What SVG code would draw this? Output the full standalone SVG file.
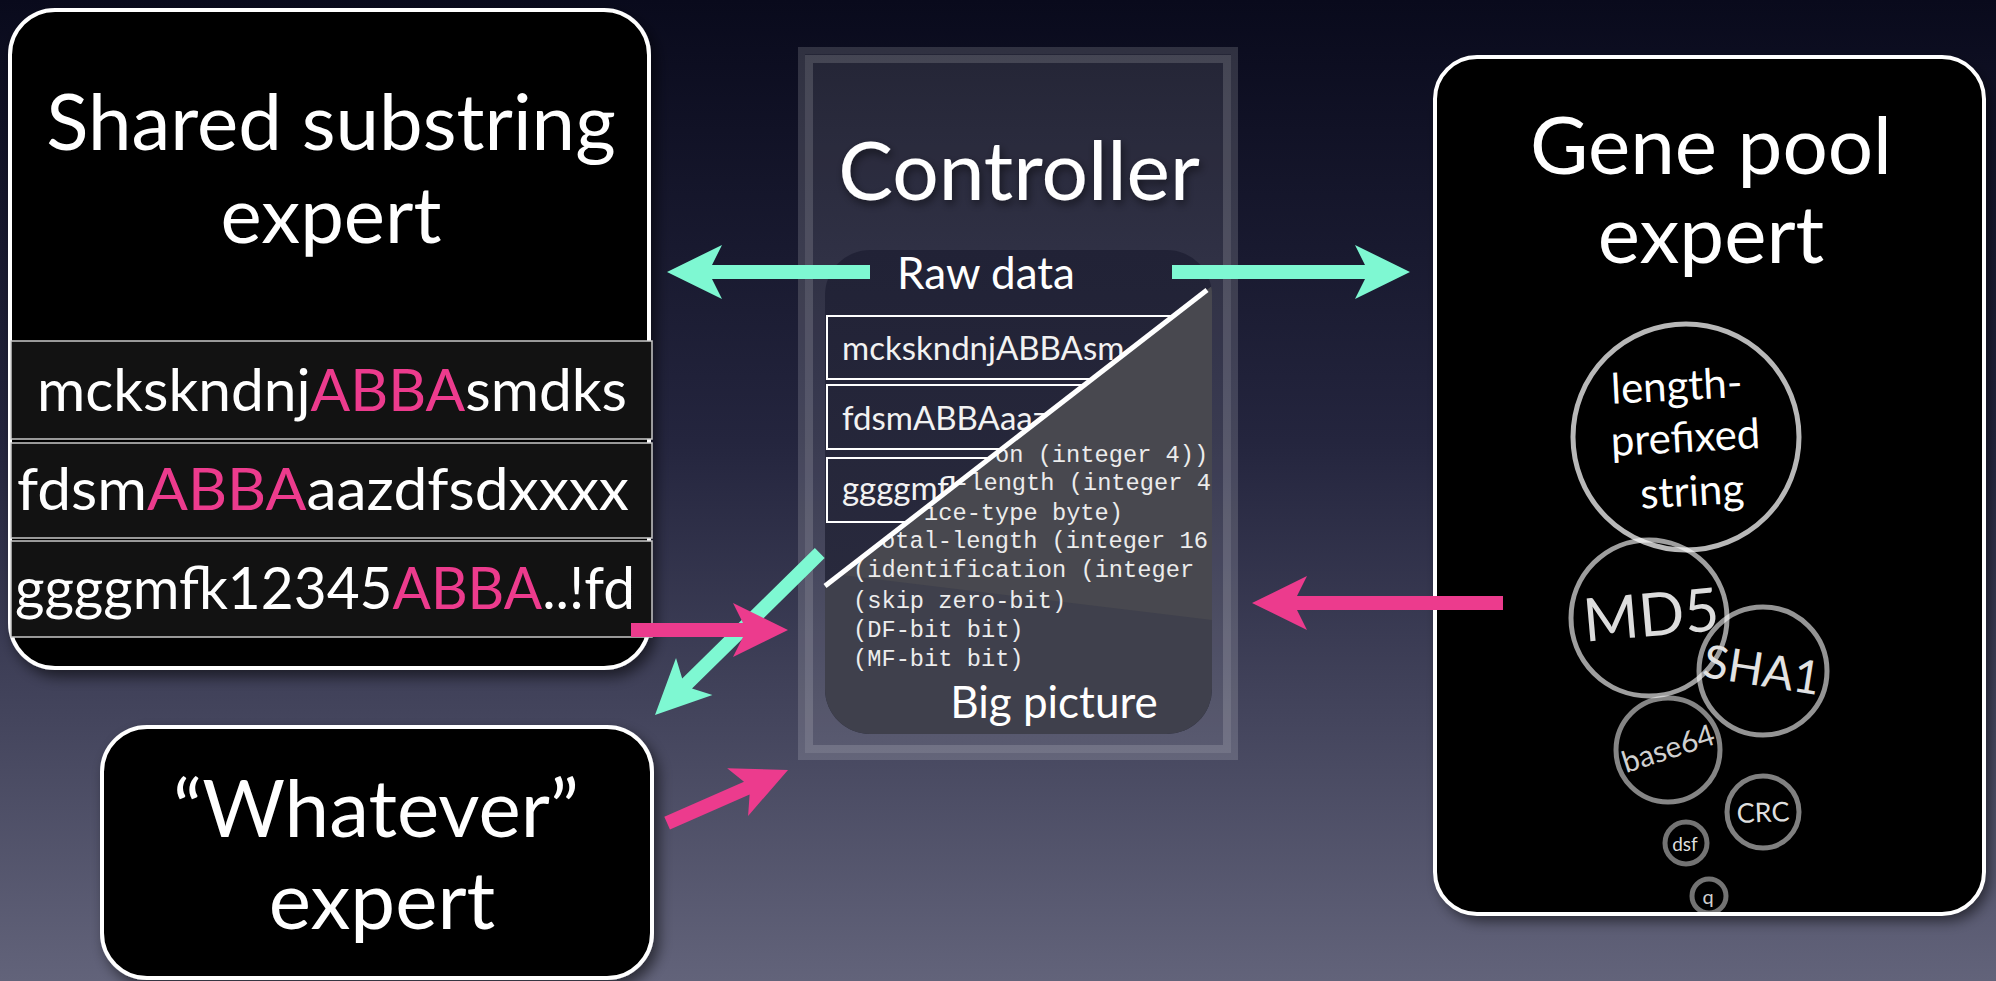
<svg xmlns="http://www.w3.org/2000/svg" width="1996" height="981" viewBox="0 0 1996 981">
  <defs>
    <linearGradient id="bg" x1="0" y1="0" x2="0" y2="1">
      <stop offset="0" stop-color="#090a1c"/>
      <stop offset="0.45" stop-color="#24253e"/>
      <stop offset="1" stop-color="#62637a"/>
    </linearGradient>
    <linearGradient id="rawBg" x1="0" y1="0" x2="0" y2="1">
      <stop offset="0" stop-color="#212236"/>
      <stop offset="1" stop-color="#2c2d40"/>
    </linearGradient>
    <filter id="shadow" x="-10%" y="-10%" width="125%" height="125%">
      <feDropShadow dx="5" dy="7" stdDeviation="7" flood-color="#000" flood-opacity="0.55"/>
    </filter>
    <filter id="textShadow" x="-10%" y="-20%" width="120%" height="150%">
      <feDropShadow dx="2" dy="4" stdDeviation="4" flood-color="#000" flood-opacity="0.5"/>
    </filter>
    <!-- inner "big picture" card and the two halves split by the diagonal -->
    <clipPath id="cardClip">
      <rect x="825" y="250" width="387" height="484" rx="45"/>
    </clipPath>
    <clipPath id="upperHalf">
      <polygon points="825,250 1212,250 1212,286 825,586"/>
    </clipPath>
    <clipPath id="lowerHalf">
      <polygon points="1212,286 825,586 825,734 1212,734"/>
    </clipPath>
    <clipPath id="geneClip">
      <rect x="1435" y="57" width="549" height="857" rx="42"/>
    </clipPath>
    <style>
      .box { fill: #000; stroke: #fff; stroke-width: 4; }
      .title { font-family: Lato, "Liberation Sans", sans-serif; fill: #fff; text-anchor: middle; }
      .row { fill: #121212; stroke: #c9c9c9; stroke-width: 1.5; }
      .rowText { font-family: Lato, "Liberation Sans", sans-serif; font-size: 58px; fill: #fff; text-anchor: middle; }
      .hi { fill: #ec3b8d; }
      .strip { fill: none; stroke: #fff; stroke-width: 2; }
      .stripText { font-family: Lato, "Liberation Sans", sans-serif; font-size: 33px; fill: #f2f2f2; }
      .code { font-family: "Liberation Mono", monospace; font-size: 23.7px; fill: #ececec; }
      .bubble { fill: none; stroke: #fff; stroke-width: 5; }
      .bubbleText { font-family: Lato, "Liberation Sans", sans-serif; text-anchor: middle; }
      .mint { fill: #7ef8d2; }
      .pink { fill: #ec3b8d; }
    </style>
  </defs>

  <!-- backdrop -->
  <rect x="0" y="0" width="1996" height="981" fill="url(#bg)"/>

  <!-- Shared substring expert -->
  <g id="shared-substring-expert">
    <rect class="box" x="10" y="10" width="639" height="658" rx="45" filter="url(#shadow)"/>
    <text class="title" x="331" y="150" font-size="78">Shared substring</text>
    <text class="title" x="331" y="243" font-size="78">expert</text>
    <rect class="row" x="11" y="341" width="641" height="98"/>
    <rect class="row" x="11" y="443" width="641" height="95"/>
    <rect class="row" x="11" y="541" width="641" height="96"/>
    <text class="rowText" x="332" y="411" textLength="590" lengthAdjust="spacingAndGlyphs">mckskndnj<tspan class="hi">ABBA</tspan>smdks</text>
    <text class="rowText" x="323" y="510" textLength="612" lengthAdjust="spacingAndGlyphs">fdsm<tspan class="hi">ABBA</tspan>aazdfsdxxxx</text>
    <text class="rowText" x="325" y="609" textLength="620" lengthAdjust="spacingAndGlyphs">ggggmfk12345<tspan class="hi">ABBA</tspan>..!fd</text>
  </g>

  <!-- "Whatever" expert -->
  <g id="whatever-expert">
    <rect class="box" x="102" y="727" width="550" height="251" rx="45" filter="url(#shadow)"/>
    <text class="title" x="376" y="837" font-size="80">“Whatever”</text>
    <text class="title" x="382" y="929" font-size="80">expert</text>
  </g>

  <!-- Controller -->
  <g id="controller">
    <rect x="798" y="47" width="440" height="713" fill="#fff" fill-opacity="0.10"/>
    <rect x="801.5" y="50.5" width="433" height="706" fill="none" stroke="#fff" stroke-opacity="0.06" stroke-width="7"/>
    <rect x="809" y="59" width="418" height="690" fill="none" stroke="#fff" stroke-opacity="0.15" stroke-width="8"/>
    <text class="title" x="1019" y="200" font-size="82" filter="url(#textShadow)">Controller</text>

    <g clip-path="url(#cardClip)">
      <!-- raw data half -->
      <rect x="825" y="250" width="387" height="484" fill="url(#rawBg)"/>
      <!-- big picture half -->
      <g clip-path="url(#lowerHalf)">
        <rect x="825" y="250" width="387" height="484" fill="#3f404c"/>
        <polygon points="825,250 1212,250 1212,620 825,573" fill="#48484f"/>
        <text class="code" x="995" y="462">on (integer 4))</text>
        <text class="code" x="955" y="490">-length (integer 4</text>
        <text class="code" x="924" y="520">ice-type byte)</text>
        <text class="code" x="881" y="548">otal-length (integer 16</text>
        <text class="code" x="853" y="577">(identification (integer</text>
        <text class="code" x="853" y="608">(skip zero-bit)</text>
        <text class="code" x="853" y="637">(DF-bit bit)</text>
        <text class="code" x="853" y="666">(MF-bit bit)</text>
      </g>
      <g clip-path="url(#upperHalf)">
        <rect class="strip" x="827" y="316" width="400" height="63"/>
        <rect class="strip" x="827" y="385" width="400" height="64"/>
        <rect class="strip" x="827" y="458" width="400" height="64"/>
        <text class="stripText" x="842" y="360">mckskndnjABBAsm</text>
        <text class="stripText" x="842" y="430">fdsmABBAaaz</text>
        <text class="stripText" x="842" y="500">ggggmfk</text>
      </g>
    </g>
    <line x1="1207" y1="290" x2="825" y2="586" stroke="#fff" stroke-width="5"/>
    <text class="title" x="986" y="289" font-size="44">Raw data</text>
    <text class="title" x="1054" y="718" font-size="44">Big picture</text>
  </g>

  <!-- Gene pool expert -->
  <g id="gene-pool-expert">
    <rect x="1435" y="57" width="549" height="857" rx="42" fill="#000" filter="url(#shadow)"/>
    <text class="title" x="1711" y="174" font-size="80">Gene pool</text>
    <text class="title" x="1711" y="263" font-size="80">expert</text>
    <g clip-path="url(#geneClip)">
      <circle class="bubble" cx="1686" cy="437" r="113" stroke-opacity="0.72"/>
      <circle class="bubble" cx="1649" cy="618" r="78" stroke-opacity="0.62"/>
      <circle class="bubble" cx="1763" cy="671" r="64" stroke-opacity="0.58"/>
      <circle class="bubble" cx="1668" cy="750" r="52" stroke-opacity="0.52"/>
      <circle class="bubble" cx="1763" cy="812" r="36" stroke-opacity="0.5"/>
      <circle class="bubble" cx="1686" cy="843" r="21" stroke-opacity="0.45"/>
      <circle class="bubble" cx="1709" cy="896" r="17" stroke-width="4" stroke-opacity="0.45"/>
      <g transform="rotate(-3 1686 450)" fill="#fff">
        <text class="bubbleText" x="1680" y="400" font-size="42">length-</text>
        <text class="bubbleText" x="1686" y="452" font-size="42">prefixed</text>
        <text class="bubbleText" x="1690" y="506" font-size="42">string</text>
      </g>
      <text class="bubbleText" x="1651" y="636" font-size="60" fill="#dcdcdc" transform="rotate(-5 1650 615)">MD5</text>
      <text class="bubbleText" x="1762" y="686" font-size="46" fill="#e2e2e2" transform="rotate(9 1762 670)">SHA1</text>
      <text class="bubbleText" x="1668" y="759" font-size="30" fill="#d0d0d0" transform="rotate(-18 1668 748)">base64</text>
      <text class="bubbleText" x="1763" y="822" font-size="27" fill="#dedede" transform="rotate(-2 1763 812)">CRC</text>
      <text class="bubbleText" x="1685" y="851" font-size="19" fill="#dedede">dsf</text>
      <text class="bubbleText" x="1708" y="904" font-size="20" fill="#cfcfcf">q</text>
    </g>
    <rect x="1435" y="57" width="549" height="857" rx="42" fill="none" stroke="#fff" stroke-width="4"/>
  </g>

  <!-- connectors -->
  <g id="connectors">
    <!-- raw data out to the shared substring expert -->
    <path class="mint" transform="translate(667 272) rotate(180)" d="M0,0 L-55,-27 L-45,-7 L-203,-7 L-203,7 L-45,7 L-55,27 Z"/>
    <!-- raw data out to the gene pool expert -->
    <path class="mint" transform="translate(1410 272)" d="M0,0 L-55,-27 L-45,-7 L-238,-7 L-238,7 L-45,7 L-55,27 Z"/>
    <!-- raw data out to the whatever expert -->
    <path class="mint" transform="translate(655 715) rotate(135.5)" d="M0,0 L-55,-26 L-45,-7 L-231,-7 L-231,7 L-45,7 L-55,26 Z"/>
    <!-- findings back into the big picture -->
    <path class="pink" transform="translate(788 630)" d="M0,0 L-55,-27 L-45,-7 L-157,-7 L-157,7 L-45,7 L-55,27 Z"/>
    <path class="pink" transform="translate(788 770) rotate(-23.7)" d="M0,0 L-55,-26 L-45,-7 L-132,-7 L-132,7 L-45,7 L-55,26 Z"/>
    <path class="pink" transform="translate(1252 603) rotate(180)" d="M0,0 L-55,-27 L-45,-7 L-251,-7 L-251,7 L-45,7 L-55,27 Z"/>
  </g>
</svg>
